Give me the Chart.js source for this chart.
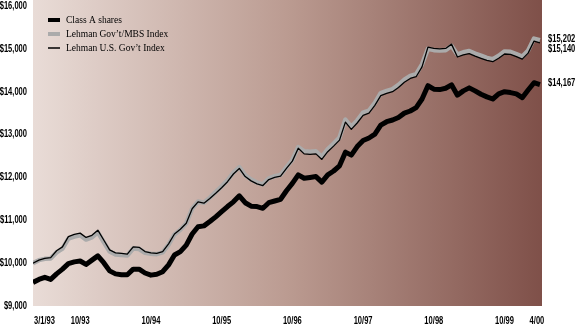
<!DOCTYPE html>
<html>
<head>
<meta charset="utf-8">
<script src="https://cdn.jsdelivr.net/npm/chart.js@4.4.0/dist/chart.umd.min.js"></script>
<style>
    html, body { margin: 0; padding: 0; background: #fff; }
    canvas { display: block; }
</style>
</head>
<body>
<canvas id="growth-chart" width="575" height="326"></canvas>
<script>
// Growth of $10,000, monthly from 3/1/93 to 4/00
const seriesNames = ['Class A shares', 'Lehman Gov\u2019t/MBS Index', 'Lehman U.S. Gov\u2019t Index'];

const classA = [
    9550, 9620, 9670, 9620, 9750, 9860, 9990, 10030, 10050, 9970,
    10070, 10170, 10010, 9820, 9750, 9730, 9730, 9860, 9860, 9770,
    9720, 9740, 9800, 9960, 10190, 10270, 10420, 10680, 10850, 10870,
    10970, 11080, 11200, 11320, 11430, 11570, 11410, 11330, 11320, 11280,
    11410, 11450, 11490, 11690, 11860, 12060, 11980, 12000, 12020, 11890,
    12060, 12150, 12270, 12590, 12520, 12720, 12860, 12920, 13010, 13220,
    13300, 13340, 13400, 13500, 13550, 13630, 13830, 14140, 14060, 14050,
    14080, 14160, 13920, 14020, 14090, 14020, 13940, 13880, 13830, 13950,
    14000, 13980, 13950, 13860, 14040, 14210, 14167
];

const govMbs = [
    10000, 10070, 10100, 10110, 10250, 10340, 10570, 10620, 10650, 10550,
    10600, 10720, 10490, 10270, 10200, 10190, 10180, 10340, 10330, 10240,
    10220, 10210, 10250, 10430, 10670, 10780, 10930, 11270, 11440, 11410,
    11530, 11660, 11790, 11930, 12110, 12240, 12050, 11950, 11880, 11840,
    11980, 12030, 12060, 12240, 12410, 12710, 12610, 12600, 12610, 12480,
    12660, 12790, 12930, 13350, 13180, 13330, 13510, 13560, 13740, 13970,
    14020, 14060, 14160, 14280, 14370, 14410, 14640, 15000, 14970, 14960,
    14970, 15070, 14870, 14920, 14950, 14890, 14840, 14790, 14760, 14840,
    14940, 14930, 14880, 14820, 14960, 15240, 15202
];

const govIndex = [
    10000, 10070, 10110, 10130, 10290, 10380, 10620, 10670, 10700, 10600,
    10650, 10770, 10540, 10310, 10240, 10230, 10210, 10380, 10370, 10270,
    10240, 10230, 10270, 10450, 10680, 10790, 10930, 11270, 11430, 11400,
    11510, 11630, 11760, 11900, 12080, 12210, 12020, 11920, 11850, 11810,
    11950, 12000, 12030, 12210, 12380, 12680, 12550, 12540, 12550, 12420,
    12600, 12730, 12870, 13290, 13120, 13270, 13450, 13500, 13680, 13910,
    13960, 14000, 14100, 14220, 14310, 14350, 14580, 15040, 15010, 15000,
    15010, 15110, 14810, 14860, 14890, 14830, 14780, 14730, 14700, 14780,
    14880, 14870, 14820, 14760, 14900, 15180, 15140
];

const yTicks = [9000, 10000, 11000, 12000, 13000, 14000, 15000, 16000];
const tickLabels = ['3/1/93', '10/93', '10/94', '10/95', '10/96', '10/97', '10/98', '10/99', '4/00'];
const tickMonths = [0, 8, 20, 32, 44, 56, 68, 80, 86];
const endLabels = ['$15,202', '$15,140', '$14,167'];

const labelFont = "bold 10.5px 'Liberation Sans', Arial, sans-serif";
const serifFont = "'Liberation Serif', 'DejaVu Serif', serif";

function toPoints(values) {
    return values.map((v, i) => ({ x: i, y: v }));
}

// squeeze a bold sans horizontally to look like the condensed face of the original
function drawNarrow(ctx, text, x, y, align) {
    ctx.save();
    ctx.translate(x, y);
    ctx.scale(0.72, 1);
    ctx.textAlign = align;
    ctx.fillText(text, 0, 0);
    ctx.restore();
}

// gradient panel behind the lines
const backdropPlugin = {
    id: 'backdrop',
    beforeDraw(chart) {
        const { ctx, chartArea } = chart;
        ctx.save();
        ctx.fillStyle = '#fff';
        ctx.fillRect(0, 0, chart.width, chart.height);
        const grad = ctx.createLinearGradient(chartArea.left, 0, chartArea.right, 0);
        grad.addColorStop(0, '#e9dcd7');
        grad.addColorStop(0.5, '#bb9b91');
        grad.addColorStop(1, '#7f5049');
        ctx.fillStyle = grad;
        ctx.fillRect(chartArea.left, 0, chartArea.right - chartArea.left, chartArea.bottom);
        ctx.restore();
    }
};

// axis labels, legend and closing values
const labelsPlugin = {
    id: 'labels',
    afterDraw(chart) {
        const { ctx, chartArea } = chart;
        const xScale = chart.scales.x;
        const yScale = chart.scales.y;
        ctx.save();
        ctx.fillStyle = '#000';
        ctx.font = labelFont;
        ctx.textBaseline = 'middle';

        // y axis
        yTicks.forEach(v => {
            drawNarrow(ctx, '$' + v.toLocaleString('en-US'), chartArea.left - 6, yScale.getPixelForValue(v), 'right');
        });

        // x axis
        tickLabels.forEach((label, k) => {
            if (k === 0) {
                drawNarrow(ctx, label, chartArea.left + 1, 321, 'left');
            } else if (k === tickLabels.length - 1) {
                drawNarrow(ctx, label, xScale.getPixelForValue(tickMonths[k]) - 3, 321, 'center');
            } else {
                drawNarrow(ctx, label, xScale.getPixelForValue(tickMonths[k]), 321, 'center');
            }
        });

        // closing values at the right
        const lastVals = [govMbs[govMbs.length - 1], govIndex[govIndex.length - 1], classA[classA.length - 1]];
        const shifts = [-1, 6, -1.5];
        endLabels.forEach((label, k) => {
            drawNarrow(ctx, label, chartArea.right + 6, yScale.getPixelForValue(lastVals[k]) + shifts[k], 'left');
        });

        // legend
        const lx = 48, ly = 20, step = 14;
        ctx.font = '9.5px ' + serifFont;
        ctx.textAlign = 'left';
        chart.data.datasets
            .slice()
            .sort((a, b) => a.legendIndex - b.legendIndex)
            .forEach((ds, k) => {
                const y = ly + k * step;
                ctx.fillStyle = ds.borderColor;
                const h = ds.borderWidth > 2 ? 4 : 1.5;
                ctx.fillRect(lx, y - h / 2, 12, h);
                ctx.fillStyle = '#000';
                ctx.fillText(ds.label, lx + 18, y);
            });

        ctx.restore();
    }
};

const ctx = document.getElementById('growth-chart');

new Chart(ctx, {
    type: 'line',
    data: {
        datasets: [
            {
                label: seriesNames[0],
                legendIndex: 0,
                data: toPoints(classA),
                borderColor: '#000',
                borderWidth: 5
            },
            {
                label: seriesNames[2],
                legendIndex: 2,
                data: toPoints(govIndex),
                borderColor: '#000',
                borderWidth: 1.3
            },
            {
                label: seriesNames[1],
                legendIndex: 1,
                data: toPoints(govMbs),
                borderColor: '#ababab',
                borderWidth: 4.5
            }
        ]
    },
    options: {
        responsive: false,
        animation: false,
        layout: { padding: { top: 6, right: 33, left: 0, bottom: 0 } },
        elements: {
            point: { radius: 0 },
            line: { tension: 0, borderJoinStyle: 'round', borderCapStyle: 'butt' }
        },
        plugins: {
            legend: { display: false },
            tooltip: { enabled: false }
        },
        scales: {
            x: {
                type: 'linear',
                min: 0,
                max: 86.35,
                grid: { display: false },
                border: { display: false },
                ticks: { display: false },
                afterFit: s => { s.height = 20; }
            },
            y: {
                min: 9000,
                max: 16000,
                grid: { display: false },
                border: { display: false },
                ticks: { display: false },
                afterFit: s => { s.width = 33; }
            }
        }
    },
    plugins: [backdropPlugin, labelsPlugin]
});
</script>
</body>
</html>
